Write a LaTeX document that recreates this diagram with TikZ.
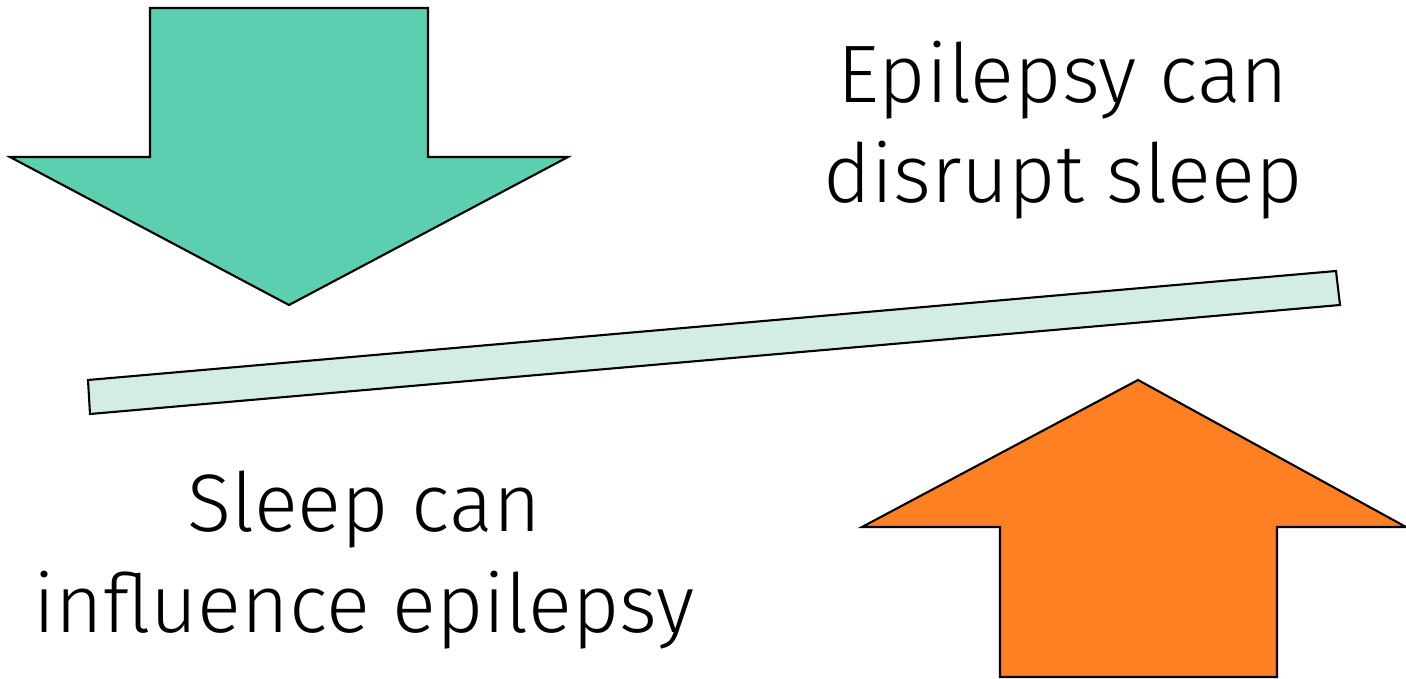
\documentclass[tikz,border=0pt]{standalone}
\usepackage{fontspec}
\setmainfont{Fira Sans}[UprightFont={* Light}]
\usetikzlibrary{positioning}
\definecolor{arrowgreen}{HTML}{5DCFB1}
\definecolor{barmint}{HTML}{D3EDE5}
\definecolor{arroworange}{HTML}{FF8022}
\begin{document}
\begin{tikzpicture}[x=0.01cm, y=-0.01cm,
			outline/.style={draw=black, line width=0.6pt, line join=miter},
			caption/.style={align=center, inner sep=0pt,
				font=\fontsize{23.2}{28.5}\selectfont}
		]
		\useasboundingbox (0,0) rectangle (1406,679);
		% down arrow
		\draw[outline, fill=arrowgreen] (150,8) -- (428,8) -- (428,157) -- (568,157)
			-- (289,305) -- (10,157) -- (150,157) -- cycle;
		% tilted bar
		\draw[outline, fill=barmint] (88,380) -- (1336,271) -- (1340,305) -- (90,414) -- cycle;
		% up arrow
		\draw[outline, fill=arroworange] (1138,380) -- (1406,527) -- (1277,527) -- (1277,677)
			-- (1000,677) -- (1000,527) -- (862,527) -- cycle;
		\node[caption] (disrupt) at (1063,130) {Epilepsy can\\disrupt sleep};
		\node[caption] (influence) at (364,560) {Sleep can\\influence epilepsy};
\end{tikzpicture}
\end{document}
